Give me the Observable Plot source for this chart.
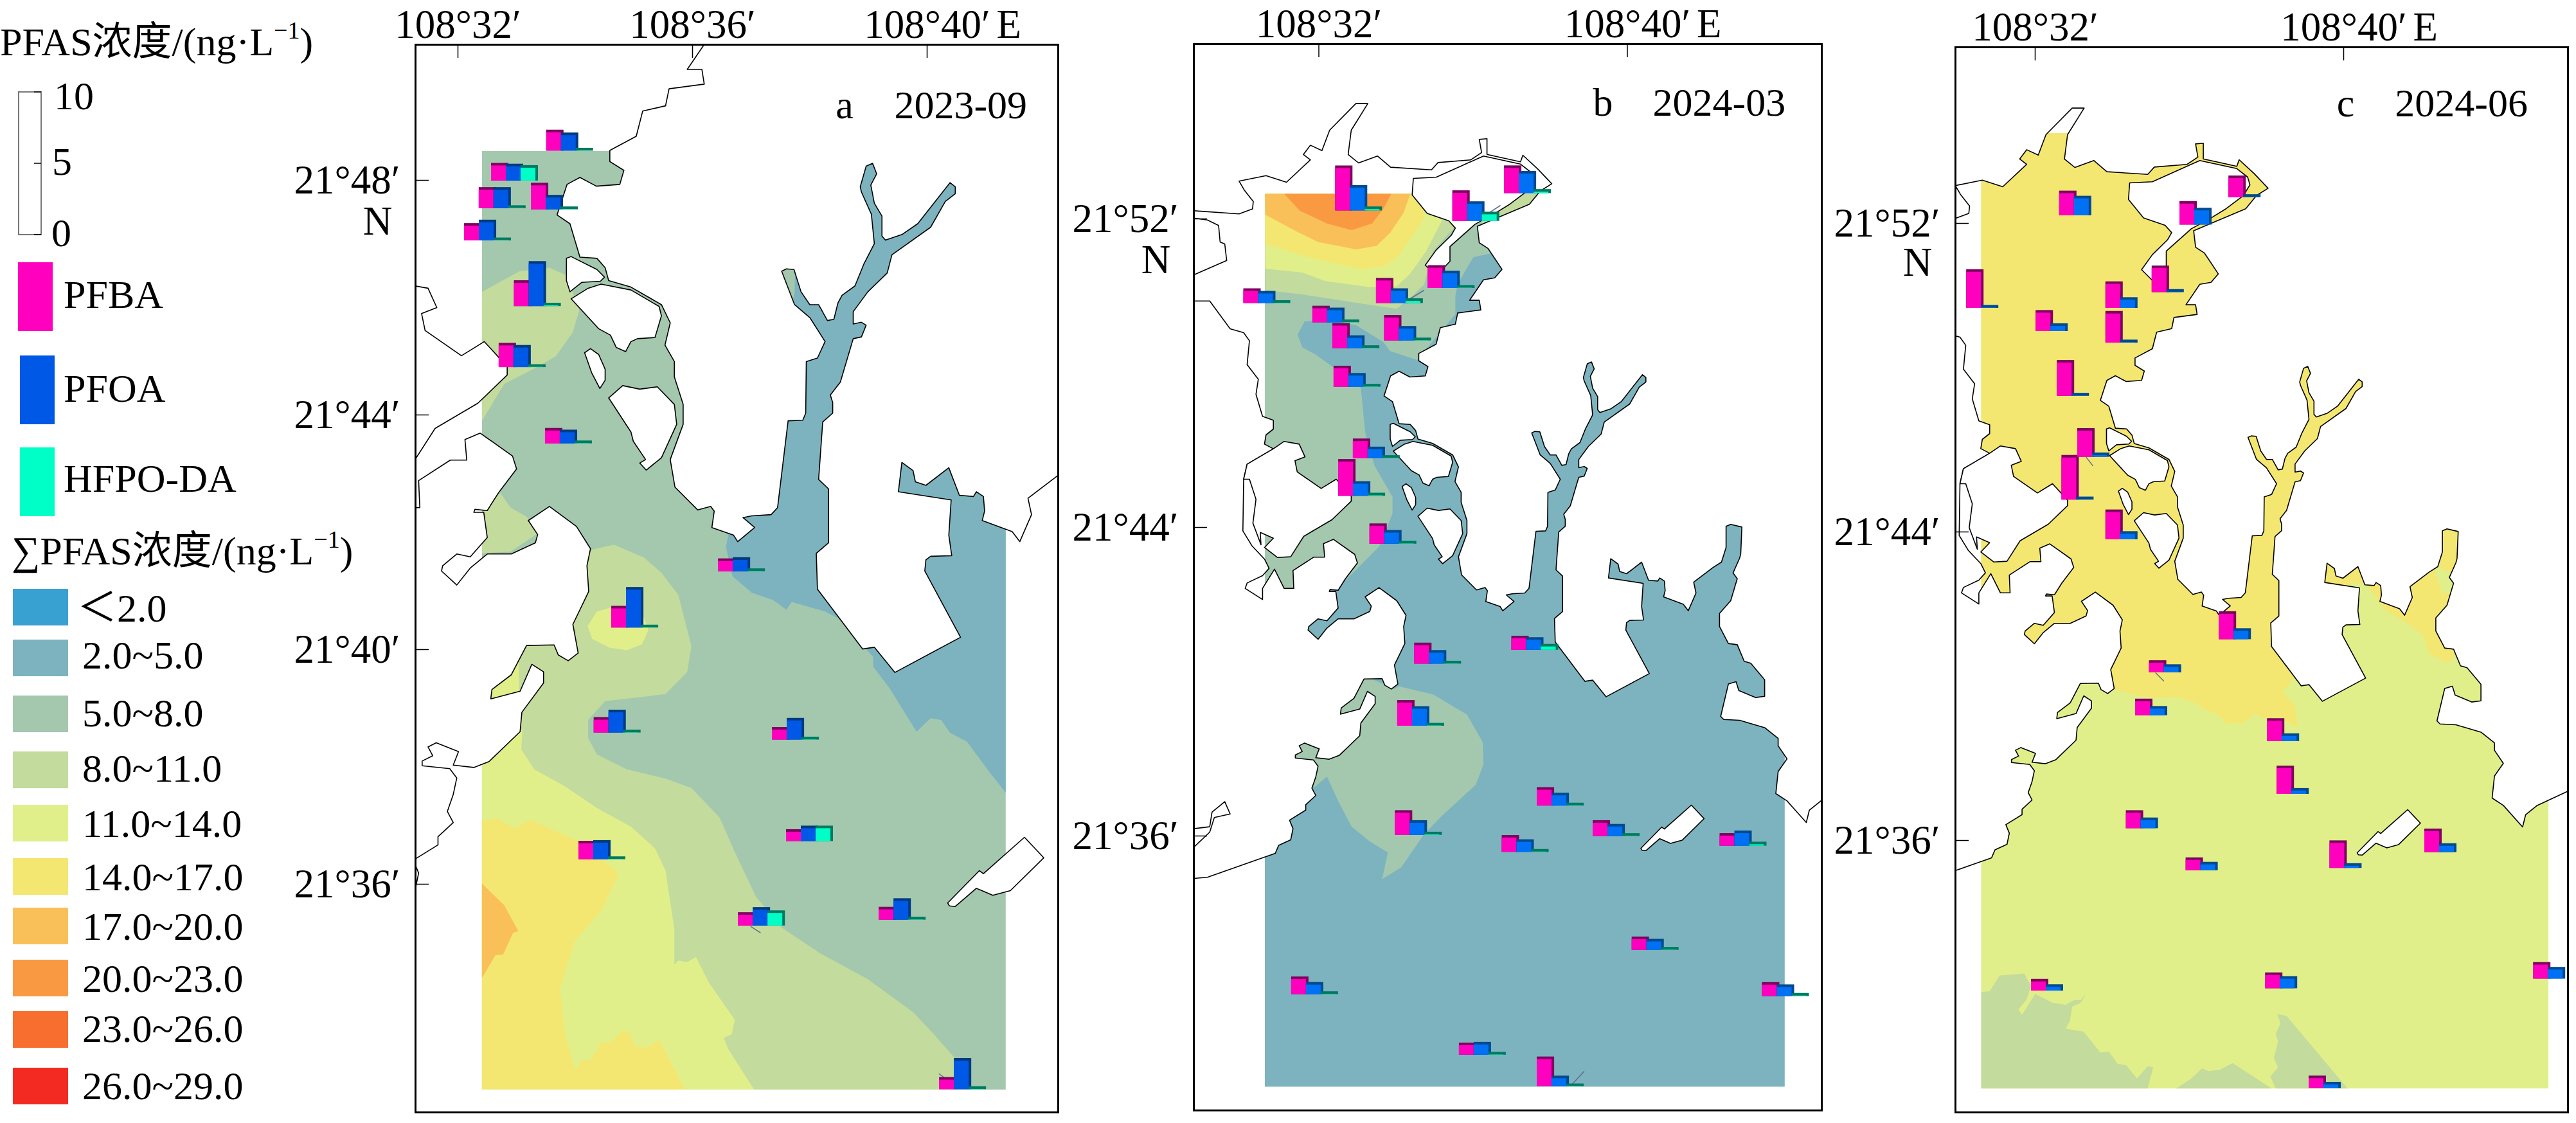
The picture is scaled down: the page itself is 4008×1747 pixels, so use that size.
<!DOCTYPE html>
<html><head><meta charset="utf-8">
<script src="https://cdn.jsdelivr.net/npm/d3@7"></script>
<script src="https://cdn.jsdelivr.net/npm/@observablehq/plot@0.6"></script>
<style>
html,body{margin:0;padding:0;background:#fff;width:4008px;height:1747px;overflow:hidden}
#page{position:relative;width:4008px;height:1747px}
#page svg{position:absolute;overflow:visible}
</style></head><body><div id="page"></div>
<script>
// All geographic values: x = minutes east of 108°, y = minutes north of 21°.
const coastMain=[[27,34.9],[28.76,34.9],[29.11,34.93],[30.87,35.55],[30.96,35.76],[31.27,35.9],[31.33,36.19],[31.24,36.41],[31.66,36.67],[31.66,36.81],[31.92,37.05],[31.82,37.24],[31.92,37.53],[31.98,37.81],[31.86,37.97],[31.39,38.02],[31.39,38.1],[31.57,38.19],[31.49,38.34],[31.63,38.41],[32.01,38.26],[31.92,38.03],[32.27,37.99],[32.53,38.09],[33.06,38.6],[33.09,38.93],[33.46,39.43],[33.46,39.62],[33.26,39.75],[33.06,39.29],[32.56,39.16],[32.58,39.32],[32.91,39.57],[33.17,40.07],[33.64,40.08],[33.71,39.91],[33.88,39.81],[34.05,39.94],[33.96,40.43],[34.23,40.99],[34.2,41.43],[34.26,41.72],[34.02,42.1],[33.56,42.44],[33.2,42.2],[33.36,41.96],[33.32,41.82],[32.91,41.63],[32.5,41.63],[32.21,41.39],[31.98,41.1],[31.72,41.34],[31.74,41.43],[31.98,41.63],[32.21,41.58],[32.5,41.91],[32.44,42.34],[32.27,42.34],[32.29,42.39],[32.5,42.37],[32.69,42.67],[33,43.08],[32.93,43.3],[32.38,43.69],[32.12,43.58],[32.15,43.23],[31.87,43.23],[31.33,42.88],[31.35,42.42],[31.1,42.42],[30.85,42.92],[30.54,42.42],[30.54,42.13],[30.09,42.42],[30.14,42.56],[30.54,42.75],[30.71,42.94],[30.59,43.18],[30.26,43.53],[30.03,43.91],[30.05,45.25],[30.14,45.64],[30.82,46.04],[30.59,46.16],[30.63,46.4],[30.82,46.55],[30.82,46.78],[30.54,46.88],[30.37,47.45],[30.43,47.84],[30.14,48.22],[30.2,48.84],[30.05,49.05],[29.7,49.15],[29.17,49.87],[28.76,49.87],[28,49.87],[28,50.55],[28.76,50.55],[29.61,50.92],[29.56,51.35],[29.44,51.4],[29.4,51.83],[29.11,51.97],[28.76,52.02],[28,52.02],[28,52.21],[28.76,52.21],[29.93,52.13],[30.28,52.26],[30.3,52.45],[30.07,52.74],[29.93,52.98],[30.63,53.12],[31.16,52.95],[31.78,53.53],[31.6,53.67],[31.78,53.91],[32.08,53.77],[32.28,54.3],[32.96,54.99],[33.27,54.99],[32.84,54.3],[32.76,53.67],[33.03,53.45],[33.52,53.63],[33.86,53.34],[34.92,53.27],[35.09,53.46],[35.94,53.53],[36.22,53.72],[36.16,54.06],[36.36,54.08],[36.36,53.67],[37.23,53.48],[37.29,53.65],[37.68,53.29],[38.04,52.91],[37.74,52.72],[37.46,52.38],[36.56,52],[36.11,51.81],[36.16,51.38],[36.39,51.23],[36.75,50.69],[36.56,50.47],[36.27,50.42],[35.91,49.89],[36.16,49.89],[36.2,49.64],[35.6,49.56],[35.54,49.27],[35.15,49.18],[35.04,48.75],[34.59,48.51],[34.59,48.32],[34.83,48.17],[34.76,47.93],[34.36,47.9],[34.08,48.05],[33.86,47.93],[33.69,47.41],[33.91,47.26],[34.08,46.69],[34.37,46.67],[34.51,46.51],[34.57,46.29],[34.95,46.18],[35.47,45.88],[35.62,45.57],[35.53,45.19],[35.69,44.91],[35.69,44.65],[35.84,44.18],[35.84,43.84],[35.62,43.24],[35.7,42.77],[36.09,42.38],[36.31,42.44],[36.37,42.36],[36.33,42.08],[36.7,41.95],[36.77,41.84],[37.06,42.08],[36.86,42.25],[37.01,42.28],[37.34,42.3],[37.45,42.42],[37.63,43.9],[37.88,43.91],[37.93,44.03],[37.94,44.91],[38.13,44.97],[38.26,45.25],[38,45.66],[37.74,45.88],[37.52,46.45],[37.6,46.49],[37.73,46.48],[37.85,46.1],[38,45.88],[38.15,45.88],[38.3,45.61],[38.41,45.63],[38.48,45.91],[38.55,46.04],[38.77,46.2],[38.92,46.57],[39.1,46.92],[39.05,47.42],[38.88,47.8],[38.86,47.89],[38.96,48.24],[39.07,48.29],[39.14,48.11],[39.04,47.92],[39.1,47.61],[39.23,47.39],[39.23,47.05],[39.29,46.98],[39.58,47.08],[39.84,47.26],[40.39,47.96],[40.48,47.89],[40.48,47.77],[40.31,47.64],[40.06,47.2],[39.4,46.73],[39.32,46.42],[38.99,46.1],[38.74,45.76],[38.74,45.55],[38.88,45.58],[38.96,45.53],[38.88,45.33],[38.74,45.3],[38.52,44.56],[38.35,44.34],[38.39,44.21],[38.39,44.03],[38.22,43.88],[38.15,42.9],[38.32,42.74],[38.32,41.82],[38.11,41.64],[38.13,41.03],[38.9,40.01],[39.1,40.04],[39.45,39.61],[40.57,40.21],[39.96,41.34],[39.98,41.53],[40.06,41.59],[40.42,41.6],[40.37,41.95],[40.41,42.55],[39.51,42.69],[39.57,43.19],[39.76,43.05],[39.8,42.86],[39.98,42.8],[40.37,43.1],[40.55,42.63],[40.79,42.61],[40.84,42.69],[40.96,42.61],[40.98,42.36],[40.94,42.2],[41.45,42.01],[41.58,41.84],[41.78,42.3],[41.72,42.58],[42.22,42.96],[42.44,43.1],[42.56,43.48],[42.56,44.03],[42.68,44.08],[42.97,44.01],[42.94,43.31],[42.91,43.2],[42.74,42.82],[42.85,42.67],[42.68,42.1],[42.39,41.77],[42.39,41.43],[42.62,40.99],[42.85,40.96],[43.03,40.53],[43.2,40.48],[43.56,40.05],[43.56,39.62],[43.32,39.59],[42.89,39.77],[42.82,40],[42.62,39.94],[42.42,39.1],[42.5,39.02],[42.91,39],[43.56,38.81],[43.91,38.53],[43.91,38.34],[44.14,38],[43.91,37.67],[43.85,37.1],[44.14,36.91],[44.64,36.35],[44.72,36.67],[45.02,36.91],[45.8,37.27],[47,37.3],[47,58],[27,58]];
const landB=[[31.1,46.23],[31.49,46.16],[31.64,45.83],[31.38,45.73],[31.44,45.44],[32.06,45.01],[32.45,45.25],[32.67,45.01],[32.84,44.82],[32.84,44.68],[32.34,44.2],[31.61,43.77],[31.27,43.24],[30.93,43.22],[30.59,43.48],[30.82,43.72],[30.48,43.87],[30.5,43.55],[30.29,44.11],[30.37,44.73],[30.2,45.25],[30.05,45.25],[30.14,45.64],[30.82,46.04]];
const landN=[[34.45,53.05],[35.04,53.08],[36.27,53.63],[37.23,53.42],[37.51,53.2],[37.57,53],[37.4,52.72],[36.95,52.38],[36.56,52.14],[36.05,51.86],[35.4,51.28],[35.4,50.9],[35.04,50.52],[34.76,50.8],[35.04,51.19],[35.43,51.57],[35.54,51.76],[35.37,51.95],[34.81,52.14],[34.42,52.62]];
const island1=[[33.85,46.67],[33.93,46.7],[34.37,46.48],[34.5,46.35],[34.43,46.28],[34.11,46.26],[33.91,46.1],[33.85,46.29]];
const island2=[[33.93,45.98],[34.22,46.16],[34.44,46.23],[34.95,46.13],[35.43,45.85],[35.47,45.69],[35.36,45.32],[35.06,45.3],[34.95,45.25],[34.86,45.08],[34.7,45.15],[34.6,45.36],[34.4,45.47]];
const island3=[[34.16,45.06],[34.26,45.13],[34.4,45.03],[34.51,44.78],[34.51,44.59],[34.42,44.45],[34.28,44.72]];
const island4=[[34.57,44.29],[34.81,44.5],[35.1,44.44],[35.4,44.48],[35.69,44.18],[35.73,43.84],[35.47,43.27],[35.21,43.06],[35.1,43.18],[35.2,43.24],[34.99,43.55],[34.95,43.71]];
const islandKnife=[[40.35,35.68],[40.89,36.23],[40.96,36.18],[41.66,36.8],[41.99,36.45],[41.42,35.89],[41.12,35.81],[40.84,35.93],[40.48,35.62],[40.38,35.63]];
const creek=[[28.76,36.19],[29.17,36.24],[29.23,36.62],[29.56,36.89],[29.7,36.57],[29.29,36.48],[29.17,36.1],[28.76,35.71]];
const landPieces=[coastMain,landB,landN,island1,island2,island3,island4,islandKnife,creek];

// Concentration classes
const classLabels=["＜2.0","2.0~5.0","5.0~8.0","8.0~11.0","11.0~14.0","14.0~17.0","17.0~20.0","20.0~23.0","23.0~26.0","26.0~29.0"];
const classColors=["#38a1d2","#7cb3bf","#a3c8ae","#c3db9c","#e0ef89","#f4e771","#f9c05a","#f99a42","#f76e2e","#f22a22"];

// Panel a contour zones
const boxA=[[32.41,32.5],[32.41,48.5],[41.34,48.5],[41.34,32.5]];
const a25=[[36.61,41.95],[36.8,42.6],[37.74,46.07],[37.75,46.6],[38,48.5],[41.34,48.5],[41.34,37.56],[41.05,37.93],[40.68,38.43],[40.39,38.58],[40.24,38.8],[40.06,38.83],[39.82,38.6],[39.36,39.34],[39.08,39.71],[39.08,39.87],[38.55,40.5],[38.26,40.65],[37.69,40.81],[37.6,40.68],[37.38,40.84],[37.01,40.97],[36.68,41.25],[36.57,41.75]];
const a811main=[[32.41,32.5],[32.41,41],[34.26,41.7],[34.66,41.79],[35.17,41.57],[35.47,41.31],[35.76,40.93],[35.98,40.06],[35.91,39.62],[35.54,39.24],[34.51,39.12],[34.22,38.8],[34.22,38.49],[34.37,38.21],[34.88,37.96],[35.54,37.8],[35.98,37.64],[36.46,37.14],[36.72,36.55],[37.08,35.79],[37.52,35.26],[38.18,34.82],[38.99,34.38],[39.76,33.82],[40.09,33.47],[40.53,32.97],[40.68,32.5]];
const a811north=[[32.41,46.1],[33.05,46.45],[33.56,46.51],[33.85,46.38],[34.07,45.79],[33.96,45.41],[33.67,45],[33.34,44.81],[32.79,44.53],[32.49,44.03],[32.41,43.9]];
const a811neck=[[32.41,41.64],[32.41,42.33],[32.72,42.67],[32.9,42.42],[33.16,42.27],[33.41,42.01],[32.9,41.67]];
const a1114main=[[32.41,32.5],[32.41,38.3],[33.1,38.65],[33.08,38.3],[33.3,37.96],[33.82,37.67],[34.37,37.3],[34.95,36.98],[35.36,36.61],[35.54,36.23],[35.69,35.23],[35.69,34.63],[35.76,34.7],[35.91,34.67],[36.06,34.76],[36.28,34.32],[36.72,33.69],[36.67,33.44],[36.53,33.38],[36.61,33.19],[37.05,32.5]];
const a1114spot=[[34.62,40.72],[34.37,40.65],[34.21,40.4],[34.29,40.18],[34.59,40.03],[34.88,39.99],[35.14,40.09],[35.25,40.34],[35.14,40.62],[34.88,40.75]];
const a1114tongue=[[32.41,39],[33.05,39],[33.03,40],[32.41,40]];
const a1417=[[32.41,32.5],[32.41,37.08],[32.68,37.12],[32.97,36.95],[33.23,37.1],[34.07,36.73],[34.7,36.23],[34.73,36.14],[34.44,35.54],[34,35.04],[33.74,34.23],[33.82,33.47],[34,32.82],[34.11,33],[34.26,33],[34.44,33.3],[34.62,33.32],[34.81,33.51],[34.92,33.47],[35.03,33.22],[35.25,33.22],[35.43,33.35],[35.87,32.5]];
const a1720=[[32.41,36.01],[32.79,35.64],[33.03,35.2],[32.94,35.17],[32.77,34.8],[32.64,34.79],[32.41,34.4]];

// Panel b contour zones
const boxB=[[30.6,29.5],[30.6,52.65],[44.08,52.65],[44.08,29.5]];
const b58north=[[30.6,52.65],[38.5,52.65],[37,51.3],[36.48,51.11],[36.01,51.01],[35.84,50.73],[35.6,50.3],[35.54,50.01],[35.54,49.53],[34.55,48.34],[33.85,48.57],[33.67,48.81],[32.97,49.24],[32.15,49.39],[31.63,49.34],[31.45,49],[31.57,48.67],[31.92,48.48],[32.39,48.14],[33.09,47.62],[33.2,46.47],[33.44,45.61],[33.91,44.79],[33.91,44.36],[33.56,43.5],[32.97,42.91],[32.5,42.45],[30.6,42.0]];
const b58south=[[34.08,39.88],[34.96,39.67],[35.84,39.15],[36.25,38.43],[36.27,37.86],[36.07,37.33],[35.19,36.52],[34.73,36.05],[34.14,35.19],[33.64,34.88],[33.79,35.57],[33.32,35.86],[32.85,36.24],[32.5,36.91],[32.21,37.54],[31.89,37.27],[31.33,37.76],[31.22,38.53],[32.39,40.15],[33.2,40.15],[33.96,39.81]];
const b811=[[30.6,52.65],[38.1,52.65],[37.6,52],[36.5,51.85],[36.11,51.92],[35.54,51.81],[34.96,51.16],[34.73,50.3],[34.43,50.01],[34.02,49.67],[33.32,49.77],[31.57,50.04],[30.61,50.15]];
const b1114=[[30.6,52.65],[35,52.65],[35.19,51.95],[34.78,51.16],[34.37,50.58],[34.02,50.25],[33.32,50.23],[32.15,50.39],[31.57,50.61],[30.61,50.71]];
const b1417=[[30.6,52.65],[34.7,52.65],[34.73,52.02],[34.37,51.49],[34.08,51.06],[33.73,50.78],[33.09,50.7],[31.86,50.97],[30.61,51.35]];
const b1720=[[30.6,52.65],[34.37,52.65],[34.2,52.16],[33.85,51.64],[33.5,51.3],[32.97,51.21],[31.98,51.4],[31.45,51.66],[30.61,52.11]];
const b2023=[[31.1,52.65],[31.51,52.21],[32.21,51.88],[32.85,51.71],[33.38,51.88],[33.67,52.26],[33.88,52.65]];

// Panel c contour zones
const boxC=[[30.6,29.57],[30.6,54.34],[45.31,54.34],[45.31,29.57]];
const c1417=[[30.6,54.34],[45,54.34],[43.5,44.5],[43.2,42.2],[43.2,41],[42.69,40.6],[42.21,40.84],[42.07,41.32],[41.62,41.65],[41.11,41.94],[40.6,42.61],[40.21,42.7],[38.69,40.18],[38.41,39.84],[38.73,39.51],[38.81,38.94],[38.41,39.13],[37.96,39.17],[37.68,39.27],[37.4,39.05],[36.95,39.03],[36.78,39.24],[36.44,39.37],[36.16,39.56],[35.71,39.72],[35.04,39.7],[34.47,39.79],[34.02,39.94],[33.8,40.1],[32,40.6],[30.6,40.6]];
const c1114patch=[[42.4,43.13],[42.85,42.9],[42.85,42.42],[42.55,42.42],[42.38,42.9]];
const c811west=[[30.6,32.07],[30.82,32.09],[31.08,32.5],[31.72,32.55],[31.89,32.22],[31.78,31.88],[31.35,31.36],[31.49,31.74],[31.66,31.48],[32,32.02],[32.45,31.79],[32.79,31.74],[33.01,31.86],[33.18,31.86],[33.32,32.02],[33.18,31.79],[32.96,31.69],[32.9,31.31],[32.79,31.12],[33.26,31.04],[33.69,30.5],[33.91,30.53],[34.14,30.21],[34.36,30.17],[34.64,29.83],[34.92,30.15],[35.06,30.12],[34.92,29.57],[30.6,29.57]];
const c811mid=[[35.66,29.57],[36.05,29.83],[36.33,30.09],[36.5,30.02],[36.78,30.05],[37.12,30.23],[38.13,29.57]];
const c811east=[[38.28,31.5],[38.52,31.45],[40.1,29.57],[38.24,29.57],[38.1,29.88],[38.3,30.12],[38.19,30.36],[38.3,30.79],[38.24,30.98],[38.36,31.26]];

// Stations: lon', lat', PFBA, PFOA, HFPO-DA (ng/L)
const stationsA=[[33.51,48.5,1.29,1.09,.02],[32.57,47.99,1.06,1,.9],[32.36,47.52,1.29,1.29,.02],[33.25,47.5,1.68,.83,.02],[32.11,46.97,1.03,1.27,.02],[32.96,45.85,1.63,2.97,.05],[32.7,44.81,1.52,1.37,.02],[33.49,43.51,.9,.78,.02],[36.44,41.33,.72,.8,.02],[34.62,40.37,1.34,2.66,.02],[34.32,38.58,.9,1.42,.02],[37.36,38.46,.7,1.34,.02],[37.6,36.73,.65,.9,.9],[34.06,36.42,1.11,1.16,.02],[36.78,35.29,.75,1.11,.88],[39.18,35.39,.72,1.32,.02],[40.21,32.5,.67,2,.02]];
const stationsB=[[32.43,52.21,2.97,1.6,.1],[36.81,52.66,1.76,1.37,.1],[35.47,51.94,1.96,1.19,.46],[34.83,50.2,1.42,1.03,.02],[33.49,49.81,1.58,.85,.15],[30.05,49.81,.85,.67,.02],[31.84,49.31,.98,.85,.02],[32.36,48.64,1.58,.72,.02],[33.7,48.84,1.6,.83,.02],[32.39,47.64,1.29,.78,.02],[32.89,45.79,1.19,.62,.02],[32.51,44.81,2.4,.85,.04],[33.32,43.57,1.24,.78,.02],[34.48,40.46,1.29,.77,.02],[37,40.82,.8,.7,.23],[34.04,38.85,1.62,1.19,.02],[33.98,36.02,1.55,.85,.04],[37.66,36.78,1.11,.72,.02],[39.11,35.99,.93,.67,.02],[36.75,35.58,1,.7,.02],[42.4,35.74,.7,.88,.1],[40.12,33.04,.75,.59,.02],[31.29,31.89,1.06,.67,.02],[43.5,31.84,.8,.64,.04],[35.64,30.32,.67,.72,.02],[37.66,29.5,1.91,.57,.02]];
const stationsC=[[32.63,52.2,1.55,1.19,0],[37.02,52.67,1.34,.03,0],[35.75,51.96,1.47,1,0],[30.22,49.8,2.53,.03,0],[35.03,50.21,1.68,.03,0],[33.83,49.8,1.68,.57,0],[32.02,49.2,1.29,.36,0],[33.83,48.9,2.04,.03,0],[32.57,47.52,2.33,.03,0],[33.1,45.94,1.83,.12,0],[32.69,44.83,2.95,.03,0],[33.83,43.8,1.91,.39,0],[36.77,41.21,1.78,.59,0],[34.96,40.35,.67,.39,0],[34.6,39.24,.98,.46,0],[38.02,38.57,1.42,.36,0],[38.27,37.2,1.8,.23,0],[34.36,36.31,1.08,.57,0],[35.91,35.22,.72,.41,0],[39.64,35.28,1.75,.15,0],[42.1,35.69,1.47,.44,0],[44.92,32.41,.98,.64,0],[37.97,32.16,.93,.67,0],[31.9,32.1,.64,.26,0],[39.1,29.57,.7,.26,0]];

// Thin leader strokes beside some stations: lon1, lat1, lon2, lat2
const leadersA=[[36.99,35.28,37.16,35.17],[40.2,32.77,40.35,32.66]];
const leadersB=[[36.42,52.16,36.71,52.35],[34.32,49.9,34.73,50.15],[38.53,29.52,38.88,29.9]];
const leadersC=[[33.32,45.94,33.5,45.71],[35.12,40.35,35.34,40.13]];

const ticksLonA=[32,36,40], ticksLatA=[48,44,40,36];
const ticksLonBC=[32,40], ticksLatBC=[52,44,36];
const FONT="'Liberation Serif','Times New Roman','Noto Sans CJK SC',serif";
const pink="#ff00bf",pinkDark="#7f0060",teal="#00ffc6",tealDark="#007a60";
const TICK_FS=63, NOTE_FS=62, LEGEND_FS=62;

const lonFmt=d=>`108°${d}′`;
const latFmt=d=>`21°${d}′`;

function poly(points,fill,extra={}){
  return Plot.line(points,{x:d=>d[0],y:d=>d[1],fill,stroke:"none",curve:"linear-closed",clip:true,...extra});
}
function bars(stations,ppm,blue,blueDark){
  const w=23/ppm,u=22.2/ppm,depth=4/ppm;
  const series=[[2,pink,pinkDark],[3,blue,blueDark],[4,teal,tealDark]];
  const marks=[];
  for(const [idx,col,dark] of series){
    const i=idx-2;
    const rows=stations.filter(s=>s[idx]>0).map(s=>({x1:s[0]+i*w,x2:s[0]+(i+1)*w,y1:s[1],y2:s[1]+s[idx]*u}));
    marks.push(Plot.rect(rows,{x1:"x1",x2:d=>d.x2+depth,y1:"y1",y2:d=>d.y2+depth,fill:dark}));
    marks.push(Plot.rect(rows,{x1:"x1",x2:"x2",y1:"y1",y2:"y2",fill:col}));
  }
  return marks;
}
function panel(o){
  const {left,top,right,bottom,ppm,lon0,lat0,tickLon,tickLat,zones,stations,blue,blueDark,letter,date,letterLon,dateLon,textLat,nLat,leaders}=o;
  const mL=240,mR=8,mT=69,mB=14;
  const W=right-left,H=bottom-top;
  const lonL=lon0+(left-o.x0)/ppm,lonR=lon0+(right-o.x0)/ppm;
  const latT=lat0+(o.y0-top)/ppm,latB=lat0+(o.y0-bottom)/ppm;
  const tick=21/ppm;
  const plot=Plot.plot({
    width:W+mL+mR,height:H+mT+mB,marginLeft:mL,marginRight:mR,marginTop:mT,marginBottom:mB,
    style:{background:"transparent",overflow:"visible",maxWidth:"none"},
    x:{domain:[lonL,lonR]},y:{domain:[latB,latT]},
    marks:[
      ...zones.map(([pts,c])=>poly(pts,classColors[c])),
      ...landPieces.map(p=>poly(p,"white",{stroke:"#000",strokeWidth:1.6,strokeLinejoin:"round"})),
      Plot.ruleX(tickLon,{x:d=>d,y1:latT,y2:latT-tick,stroke:"#000",strokeWidth:1.5}),
      Plot.ruleY(tickLat,{y:d=>d,x1:lonL,x2:lonL+tick,stroke:"#000",strokeWidth:1.5}),
      Plot.link(leaders,{x1:d=>d[0],y1:d=>d[1],x2:d=>d[2],y2:d=>d[3],stroke:"#5a6f8f",strokeWidth:1.5}),
      ...bars(stations,ppm,blue,blueDark),
      Plot.frame({stroke:"#000",strokeWidth:3}),
      Plot.axisX({anchor:"top",ticks:tickLon,tickFormat:lonFmt,tickSize:0,tickPadding:11,fontSize:TICK_FS,fontFamily:FONT,fill:"#000",label:null}),
      Plot.axisY({anchor:"left",ticks:tickLat,tickFormat:latFmt,tickSize:0,tickPadding:24,fontSize:TICK_FS,fontFamily:FONT,fill:"#000",label:null}),
      Plot.text(["E"],{x:()=>tickLon[tickLon.length-1],y:()=>latT,dx:108,dy:-11,textAnchor:"start",lineAnchor:"bottom",fontSize:TICK_FS,fontFamily:FONT,fill:"#000"}),
      Plot.text(["N"],{x:()=>lonL,y:()=>nLat,dx:-59,textAnchor:"middle",fontSize:TICK_FS,fontFamily:FONT,fill:"#000"}),
      Plot.text([letter],{x:()=>letterLon,y:()=>textLat,textAnchor:"start",lineAnchor:"bottom",fontSize:NOTE_FS,fontFamily:FONT,fill:"#000"}),
      Plot.text([date],{x:()=>dateLon,y:()=>textLat,textAnchor:"start",lineAnchor:"bottom",fontSize:NOTE_FS,fontFamily:FONT,fill:"#000"})
    ]
  });
  plot.style.position="absolute";
  plot.style.left=(left-mL)+"px";
  plot.style.top=(top-mT)+"px";
  document.getElementById("page").appendChild(plot);
}
panel({left:646,top:69,right:1646,bottom:1730,ppm:91.25,x0:712,y0:280,lon0:32,lat0:48,tickLon:ticksLonA,tickLat:ticksLatA,
  zones:[[boxA,2],[a25,1],[a811main,3],[a811north,3],[a811neck,3],[a1114main,4],[a1114spot,4],[a1114tongue,4],[a1417,5],[a1720,6]],
  stations:stationsA,blue:"#0058e6",blueDark:"#003a80",leaders:leadersA,letter:"a",date:"2023-09",letterLon:38.44,dateLon:39.44,textLat:49.06,nLat:47.3});
panel({left:1857,top:68,right:2834,bottom:1727,ppm:60,x0:2051.5,y0:340,lon0:32,lat0:52,tickLon:ticksLonBC,tickLat:ticksLatBC,
  zones:[[boxB,1],[b58north,2],[b58south,2],[b811,3],[b1114,4],[b1417,5],[b1720,6],[b2023,7]],
  stations:stationsB,blue:"#0070f5",blueDark:"#004a90",leaders:leadersB,letter:"b",date:"2024-03",letterLon:39.11,dateLon:40.66,textLat:54.67,nLat:50.92});
panel({left:3042,top:73,right:3995,bottom:1730,ppm:60,x0:3166,y0:347,lon0:32,lat0:52,tickLon:ticksLonBC,tickLat:ticksLatBC,
  zones:[[boxC,4],[c1417,5],[c1114patch,4],[c811west,3],[c811mid,3],[c811east,3]],
  stations:stationsC,blue:"#0070f5",blueDark:"#004a90",leaders:leadersC,letter:"c",date:"2024-06",letterLon:39.82,dateLon:41.33,textLat:54.77,nLat:50.98});

// Legend
const speciesNames=["PFBA","PFOA","HFPO-DA"];
const speciesColors=["#ff00bf","#0058e6","#00ffc6"];
const scaleTicks=[10,5,0];
const leg=d3.select("#page").append("svg").attr("width",640).attr("height",1747).style("left","0").style("top","0")
  .style("font-family",FONT).style("font-size",LEGEND_FS+"px");
function title(x,y,txt){
  const t=leg.append("text").attr("x",x).attr("y",y);
  t.append("tspan").text(txt+"/(ng·L");
  t.append("tspan").attr("dy",-26).style("font-size","38px").text("−1");
  t.append("tspan").attr("dy",26).text(")");
}
title(0,86,"PFAS浓度");
leg.append("rect").attr("x",29).attr("y",143).attr("width",35).attr("height",222).attr("fill","#fff").attr("stroke","#777").attr("stroke-width",2);
scaleTicks.forEach((v,i)=>{
  const y=143+(10-v)*22.2;
  leg.append("line").attr("x1",53).attr("x2",64).attr("y1",y).attr("y2",y).attr("stroke","#000").attr("stroke-width",1.5);
});
[[84,170],[81,272],[80,383]].forEach((p,i)=>leg.append("text").attr("x",p[0]).attr("y",p[1]).text(scaleTicks[i]));
[[28,408,479],[31,553,625],[31,696,765]].forEach((p,i)=>{
  leg.append("rect").attr("x",p[0]).attr("y",p[1]).attr("width",54).attr("height",107).attr("fill",speciesColors[i]);
  leg.append("text").attr("x",99).attr("y",p[2]).text(speciesNames[i]);
});
title(18,878,"∑PFAS浓度");
const swTop=[916,995,1082,1169,1252,1335,1412,1493,1573,1661];
const lblBase=[967,1040,1130,1216,1302,1385,1462,1543,1621,1710];
classLabels.forEach((s,i)=>{
  leg.append("rect").attr("x",20).attr("y",swTop[i]).attr("width",86).attr("height",57).attr("fill",classColors[i]);
  leg.append("text").attr("x",i==0?120:128).attr("y",lblBase[i]).text(s);
});
</script></body></html>
